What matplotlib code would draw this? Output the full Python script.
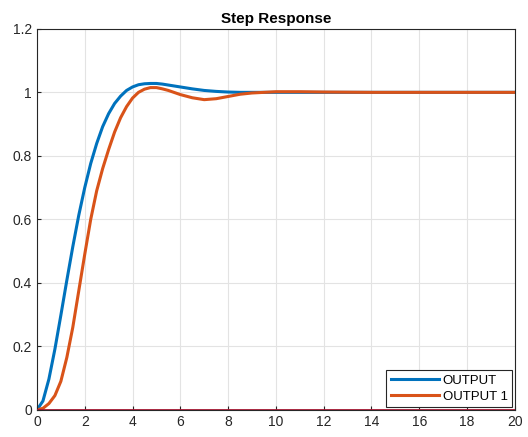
import matplotlib
matplotlib.use('Agg')
import matplotlib.pyplot as plt

plt.rcParams['font.family'] = ['Liberation Sans', 'DejaVu Sans']

# values (time in s)
t = [0, 0.25, 0.5, 0.75, 1, 1.25, 1.5, 1.75, 2, 2.25, 2.5, 2.75, 3, 3.25,
     3.5, 3.75, 4, 4.25, 4.5, 4.75, 5, 5.25, 5.5, 6, 6.5, 7, 7.5, 8,
     8.5, 9, 9.5, 10, 11, 12, 14, 16, 18, 20]
output = [0, 0.028, 0.097, 0.191, 0.298, 0.408, 0.514, 0.613, 0.700, 0.776,
          0.839, 0.892, 0.933, 0.965, 0.988, 1.006, 1.017, 1.024, 1.027,
          1.028, 1.028, 1.026, 1.023, 1.017, 1.011, 1.006, 1.003, 1.001,
          1.0, 1.0, 1.0, 1.0, 1.0, 1.0, 1.0, 1.0, 1.0, 1.0]
output1 = [0, 0.005, 0.02, 0.045, 0.09, 0.165, 0.26, 0.375, 0.49, 0.60,
           0.69, 0.76, 0.82, 0.875, 0.92, 0.955, 0.982, 1.0, 1.010, 1.015,
           1.015, 1.011, 1.006, 0.993, 0.983, 0.977, 0.980, 0.987, 0.994,
           0.998, 1.0, 1.002, 1.002, 1.001, 1.0, 1.0, 1.0, 1.0]
baseline = [0] * len(t)

fig = plt.figure(figsize=(5.28, 4.37), dpi=100)
ax = fig.add_axes([0.070, 0.062, 0.905, 0.872])

ax.plot(t, output, color='#0072BD', lw=2.2, label='OUTPUT')
ax.plot(t, output1, color='#D95319', lw=2.2, label='OUTPUT 1')
ax.plot(t, baseline, color='#A2142F', lw=2, zorder=3)

ax.set_xlim(0, 20)
ax.set_ylim(0, 1.2)
ax.set_xticks(range(0, 21, 2))
ax.set_yticks([0, 0.2, 0.4, 0.6, 0.8, 1, 1.2])
ax.set_yticklabels(['0', '0.2', '0.4', '0.6', '0.8', '1', '1.2'])
ax.tick_params(direction='in', labelsize=10, colors='#262626', length=3)
ax.grid(True, color='#e3e3e3', lw=0.8)
ax.set_axisbelow(True)
for s in ax.spines.values():
    s.set_color('#262626')
    s.set_linewidth(0.8)

ax.set_title('Step Response', fontweight='bold', fontsize=11, pad=4)

leg = ax.legend(loc='lower right', fontsize=9.5, fancybox=False,
                edgecolor='#262626', framealpha=1, borderaxespad=0.2,
                handlelength=3.6, handletextpad=0.3, borderpad=0.35,
                labelspacing=0.25)
leg.get_frame().set_linewidth(0.8)

fig.savefig('out.png', dpi=100)
